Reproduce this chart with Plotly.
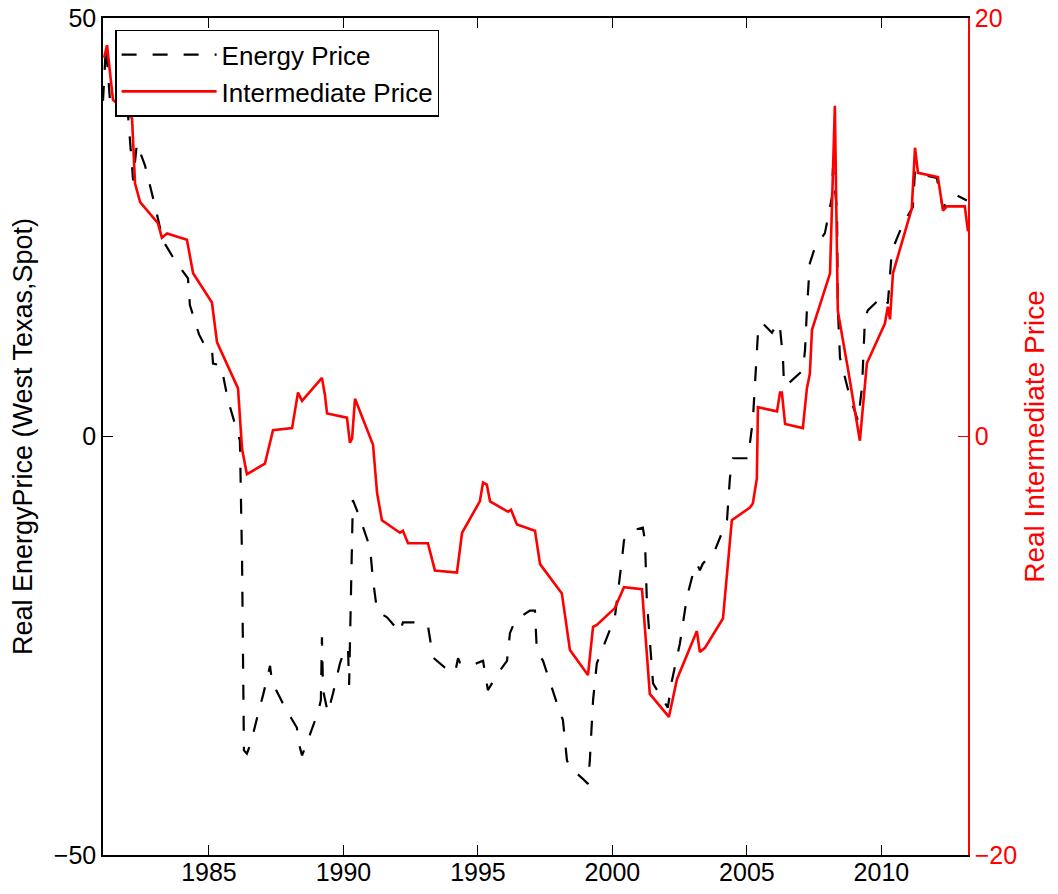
import plotly.graph_objects as go

energy_year = [1981.06, 1981.17, 1981.32, 1981.43, 1981.99, 1982.18, 1982.32, 1982.62, 1982.99, 1983.29,
               1983.74, 1984.22, 1984.29, 1984.63, 1984.89, 1985.11, 1985.15, 1985.45, 1985.71, 1986.00,
               1986.15, 1986.23, 1986.30, 1986.41, 1986.56, 1986.86, 1987.01, 1987.27, 1987.34, 1987.45,
               1987.75, 1988.05, 1988.27, 1988.31, 1988.46, 1988.64, 1989.05, 1989.16, 1989.20, 1989.24,
               1989.42, 1989.61, 1989.87, 1990.06, 1990.17, 1990.21, 1990.35, 1990.61, 1990.80, 1990.99,
               1991.10, 1991.25, 1991.36, 1991.62, 1992.10, 1992.21, 1992.73, 1993.14, 1993.33, 1993.77,
               1994.15, 1994.26, 1994.33, 1994.70, 1995.19, 1995.37, 1995.74, 1996.08, 1996.19, 1996.38,
               1996.93, 1997.12, 1997.19, 1997.42, 1997.94, 1998.16, 1998.31, 1998.42, 1998.90, 1999.09,
               1999.16, 1999.28, 1999.42, 1999.80, 2000.09, 2000.35, 2000.43, 2000.76, 2001.13, 2001.21,
               2001.28, 2001.51, 2001.84, 2002.06, 2002.21, 2002.51, 2002.77, 2002.96, 2003.14, 2003.25,
               2003.36, 2003.81, 2004.26, 2004.37, 2004.48, 2005.04, 2005.22, 2005.37, 2005.41, 2005.56,
               2005.93, 2006.15, 2006.23, 2006.34, 2006.38, 2006.53, 2007.08, 2007.16, 2007.23, 2007.34,
               2007.53, 2007.90, 2008.16, 2008.20, 2008.35, 2008.38, 2008.46, 2008.83, 2009.13, 2009.28,
               2009.31, 2009.39, 2009.50, 2010.06, 2010.24, 2010.32, 2010.39, 2010.80, 2011.17, 2011.25,
               2011.32, 2012.06, 2012.29, 2012.44, 2012.81, 2013.18]
energy_price = [40.1, 46.7, 40.1, 39.9, 38.4, 30.6, 35.0, 32.4, 27.6, 23.4,
                21.0, 18.9, 15.7, 12.2, 10.6, 10.5, 8.7, 8.5, 4.3, 1.3,
                -0.5, -14.8, -37.5, -37.9, -36.6, -32.7, -30.9, -27.4, -29.2, -30.0,
                -31.9, -33.6, -34.8, -36.3, -38.1, -36.6, -33.0, -31.5, -24.0, -30.3,
                -33.0, -30.7, -27.1, -25.3, -25.3, -29.7, -7.6, -9.7, -11.6, -13.3,
                -17.2, -20.8, -21.1, -21.6, -23.4, -22.2, -22.2, -22.6, -26.4, -27.6,
                -28.2, -26.5, -27.0, -27.4, -26.8, -30.3, -28.3, -26.8, -23.5, -22.0,
                -20.8, -20.8, -25.6, -26.8, -31.9, -33.9, -38.7, -39.5, -40.9, -41.5,
                -38.7, -31.5, -27.1, -24.0, -21.6, -14.8, -12.4, -11.2, -10.9, -12.4,
                -19.6, -29.5, -31.2, -32.4, -29.2, -24.7, -19.2, -16.8, -15.2, -16.0,
                -15.2, -13.6, -10.0, -4.9, -2.6, -2.6, 1.9, 10.3, 12.3, 13.6,
                12.4, 13.6, 13.0, 9.4, 6.1, 6.3, 7.9, 10.3, 15.1, 20.7,
                22.6, 24.3, 28.6, 32.1, 27.0, 15.4, 9.4, 4.7, 1.9, 5.9,
                8.7, 14.2, 15.1, 16.8, 15.9, 19.8, 22.2, 25.4, 27.4, 31.8,
                31.4, 30.9, 27.2, 28.2, 28.8, 28.2]

inter_year = [1981.10, 1981.21, 1981.43, 1981.58, 1982.14, 1982.25, 1982.44, 1983.10, 1983.25, 1983.44,
              1984.18, 1984.41, 1985.11, 1985.30, 1986.08, 1986.23, 1986.41, 1987.08, 1987.27, 1987.38,
              1988.09, 1988.31, 1988.46, 1989.20, 1989.31, 1989.39, 1990.13, 1990.24, 1990.32, 1990.43,
              1991.10, 1991.25, 1991.43, 1992.10, 1992.21, 1992.40, 1993.14, 1993.40, 1994.22, 1994.41,
              1995.07, 1995.19, 1995.33, 1995.45, 1996.12, 1996.23, 1996.45, 1997.12, 1997.31, 1998.12,
              1998.42, 1999.09, 1999.28, 1999.42, 2000.09, 2000.43, 2001.10, 2001.39, 2002.10, 2002.40,
              2003.14, 2003.25, 2003.44, 2004.11, 2004.44, 2005.11, 2005.22, 2005.37, 2005.41, 2006.12,
              2006.23, 2006.30, 2006.42, 2007.08, 2007.23, 2007.34, 2007.42, 2008.09, 2008.27, 2008.38,
              2008.76, 2009.20, 2009.46, 2010.13, 2010.24, 2010.32, 2010.43, 2011.13, 2011.25, 2011.36,
              2012.10, 2012.29, 2012.44, 2013.10, 2013.22]
inter_price = [18.1, 18.7, 16.1, 15.9, 15.2, 12.1, 11.2, 10.2, 9.5, 9.7,
               9.4, 7.8, 6.4, 4.5, 2.3, -0.6, -1.8, -1.3, -0.2, 0.3,
               0.4, 2.1, 1.7, 2.8, 2.0, 1.1, 0.9, -0.3, -0.1, 1.8,
               -0.4, -2.7, -4.0, -4.6, -4.5, -5.1, -5.1, -6.4, -6.5, -4.6,
               -3.1, -2.2, -2.3, -3.1, -3.6, -3.5, -4.2, -4.5, -6.1, -7.5,
               -10.2, -11.4, -9.1, -9.0, -8.2, -7.2, -7.3, -12.3, -13.4, -11.6,
               -9.3, -10.3, -10.1, -8.7, -4.0, -3.4, -3.2, -2.0, 1.4, 1.2,
               2.1, 2.1, 0.6, 0.4, 2.3, 3.0, 5.1, 7.8, 15.8, 6.0,
               3.2, -0.2, 3.5, 5.4, 6.2, 5.6, 7.8, 10.9, 13.8, 12.6,
               12.4, 10.8, 11.0, 11.0, 9.8]

x_ticks = [1985, 1990, 1995, 2000, 2005, 2010]
left_ticks = [-50, 0, 50]
right_ticks = [-20, 0, 20]

FONT = "Liberation Sans, Arial, Helvetica, sans-serif"
RED = "#ff0000"

fig = go.Figure()
fig.add_trace(go.Scatter(x=energy_year, y=energy_price, mode="lines", name="Energy Price",
                         line=dict(color="black", width=2.2, dash="15px,16px"), yaxis="y"))
fig.add_trace(go.Scatter(x=inter_year, y=inter_price, mode="lines", name="Intermediate Price",
                         line=dict(color=RED, width=2.6), yaxis="y2"))

fig.update_layout(
    width=1042, height=878,
    margin=dict(l=95, r=82, t=10, b=31, autoexpand=False),
    paper_bgcolor="white", plot_bgcolor="white",
    font=dict(family=FONT, size=25, color="black"),
    showlegend=True,
    legend=dict(x=0.014, y=0.986, xanchor="left", yanchor="top",
                bordercolor="black", borderwidth=1.5, bgcolor="white",
                font=dict(size=26, family=FONT), itemwidth=95, tracegroupgap=0),
    xaxis=dict(range=[1981.06, 2013.22], tickvals=x_ticks, ticks="inside", ticklen=10,
               tickcolor="black", showline=True, linecolor="black", linewidth=1.5,
               mirror="ticks", showgrid=False, zeroline=False, automargin=False,
               ticklabeloverflow="allow", ticklabelstandoff=-6,
               tickfont=dict(size=25, family=FONT)),
    yaxis=dict(range=[-50, 50], tickvals=left_ticks, ticks="inside", ticklen=10,
               tickcolor="black", showline=True, linecolor="black", linewidth=1.5,
               showgrid=False, zeroline=False, automargin=False,
               ticklabeloverflow="allow",
               tickfont=dict(size=25, family=FONT),
               title=dict(text="Real EnergyPrice (West Texas,Spot)", standoff=14,
                          font=dict(size=27, family=FONT))),
    yaxis2=dict(range=[-20, 20], tickvals=right_ticks, overlaying="y", side="right",
                ticks="inside", ticklen=10, tickcolor=RED,
                showline=True, linecolor=RED, linewidth=1.5,
                showgrid=False, zeroline=False, automargin=False,
                ticklabeloverflow="allow",
                tickfont=dict(size=25, family=FONT, color=RED),
                title=dict(text="Real Intermediate Price", standoff=11,
                           font=dict(size=28, family=FONT, color=RED))),
)

fig.write_html("out.html")
